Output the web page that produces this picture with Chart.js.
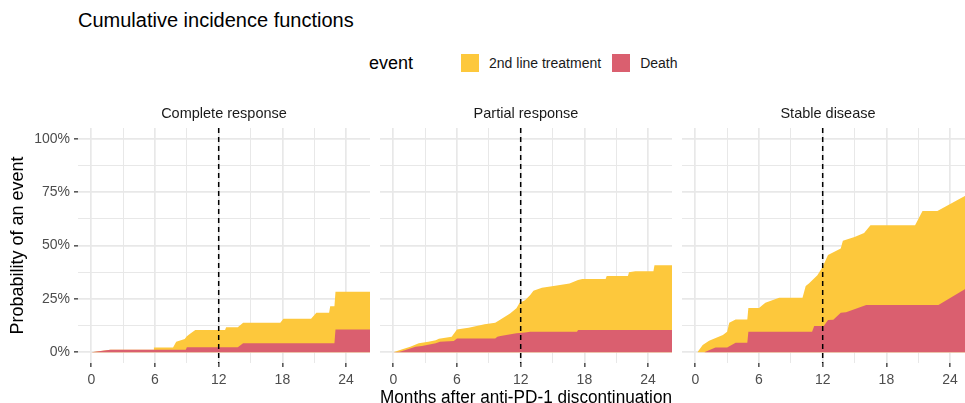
<!DOCTYPE html>
<html>
<head>
<meta charset="utf-8">
<script src="https://cdn.jsdelivr.net/npm/chart.js@4.4.1/dist/chart.umd.min.js"></script>
<style>
  html, body { margin: 0; padding: 0; background: #fff; }
  body { width: 965px; height: 403px; position: relative; overflow: hidden; font-family: "Liberation Sans", Arial, sans-serif; }
  .box { position: absolute; }
  .title { left: 78px; top: 8px; font-size: 20px; line-height: 24px; color: #000; white-space: nowrap; }
  .legend { top: 52px; left: 369px; height: 22px; display: flex; align-items: center; white-space: nowrap; }
  .legend .lt { font-size: 18px; color: #000; margin-right: 48px; }
  .legend .key { width: 18px; height: 18px; margin-right: 10px; }
  .legend .lab { font-size: 14px; color: #1a1a1a; margin-right: 11px; }
</style>
</head>
<body>
<div class="box title">Cumulative incidence functions</div>
<div class="box legend" id="legend"></div>
<canvas id="cr" class="box" style="left:0px;top:95px"></canvas>
<canvas id="pr" class="box" style="left:380px;top:95px"></canvas>
<canvas id="sd" class="box" style="left:682px;top:95px"></canvas>
<script>
// categories
const eventNames = ['2nd line treatment', 'Death'];
const panelNames = ['Complete response', 'Partial response', 'Stable disease'];
const xTicks = [0, 3, 6, 9, 12, 15, 18, 21, 24];
const yTicks = [0, 12.5, 25, 37.5, 50, 62.5, 75, 87.5, 100];
const landmarkMonth = 12;

// Complete response: death (bottom area) and stacked top (death + 2nd line), in %
const crDeathT   = [0, 1.8, 8.9, 9.0, 13.8, 14.3, 22.9, 23.0, 26.5];
const crDeathPct = [0, 1.2, 1.2, 2.4, 2.4, 4.2, 4.2, 10.7, 10.7];
const crTopT     = [0, 1.8, 5.85, 5.9, 7.7, 8.0, 8.8, 9.0, 9.4, 9.8, 12.6, 12.7, 13.8, 14.3, 17.8, 18.1, 20.7, 21.2, 22.4, 22.5, 22.9, 23.0, 26.5];
const crTopPct   = [0, 1.2, 1.2, 2.3, 2.3, 5.0, 6.2, 7.5, 9.0, 10.4, 10.4, 11.7, 11.7, 13.8, 13.8, 15.7, 15.7, 18.5, 18.5, 21.6, 21.6, 28.3, 28.3];

// Partial response
const prDeathT   = [0, 0.6, 1.15, 2.1, 2.7, 4.0, 4.4, 5.7, 6.0, 9.6, 9.8, 10.1, 11.6, 12.4, 12.9, 17.3, 17.4, 26.5];
const prDeathPct = [0, 0.3, 1.1, 2.6, 2.9, 4.2, 5.0, 5.3, 6.5, 6.5, 7.3, 7.6, 8.9, 9.3, 9.6, 9.6, 10.4, 10.4];
const prTopT     = [0, 0.85, 1.6, 2.4, 2.7, 3.3, 4.0, 4.3, 5.5, 6.0, 6.6, 7.1, 8.6, 9.6, 10.1, 11.0, 11.6, 11.9, 12.4, 12.9, 13.2, 14.0, 15.1, 16.6, 17.4, 17.8, 20.0, 20.1, 22.1, 22.2, 22.8, 24.5, 24.6, 26.5];
const prTopPct   = [0, 1.4, 2.6, 4.2, 4.5, 5.0, 5.7, 6.4, 7.3, 10.7, 11.2, 11.5, 13.1, 13.8, 15.4, 18.2, 20.6, 23.2, 24.4, 26.8, 28.8, 30.2, 31.0, 32.2, 33.8, 34.3, 34.3, 35.7, 35.7, 37.5, 38.0, 38.0, 40.8, 40.8];

// Stable disease
const sdDeathT   = [0.85, 1.9, 3.0, 3.8, 4.9, 5.0, 11.0, 11.2, 12.1, 12.5, 13.0, 13.7, 14.2, 16.1, 22.9, 26.5];
const sdDeathPct = [0, 2.2, 2.2, 4.5, 4.5, 9.6, 9.6, 12.3, 12.3, 15.1, 15.3, 18.5, 18.8, 22.1, 22.1, 32.9];
const sdTopT     = [0.2, 0.7, 1.3, 2.6, 3.0, 3.2, 3.8, 4.9, 5.0, 6.0, 6.6, 7.9, 10.1, 10.4, 10.7, 11.5, 12.0, 12.5, 13.7, 13.9, 15.0, 15.9, 16.5, 20.7, 21.4, 22.8, 26.5];
const sdTopPct   = [0, 3.4, 5.4, 8.1, 9.6, 13.8, 15.4, 15.4, 20.8, 20.8, 23.2, 25.5, 25.5, 31.0, 32.2, 36.1, 40.0, 45.5, 48.6, 52.2, 54.0, 55.9, 59.5, 59.5, 66.2, 66.2, 76.2];

const yellow = '#FDC83C';
const red = '#DA5F6F';

// legend
const legend = document.getElementById('legend');
legend.innerHTML = '<span class="lt">event</span>' +
  eventNames.map((n, i) => '<span class="key" style="background:' + (i === 0 ? yellow : red) + '"></span><span class="lab">' + n + '</span>').join('');

const toPts = (ts, vs) => ts.map((t, i) => ({ x: t, y: vs[i] }));

const landmarkPlugin = {
  id: 'landmark',
  afterDatasetsDraw(chart) {
    const { ctx, chartArea: { top, bottom }, scales: { x } } = chart;
    const xPos = x.getPixelForValue(landmarkMonth);
    ctx.save();
    ctx.strokeStyle = '#000';
    ctx.lineWidth = 1.5;
    ctx.setLineDash([5, 4]);
    ctx.beginPath();
    ctx.moveTo(xPos, top);
    ctx.lineTo(xPos, bottom);
    ctx.stroke();
    ctx.restore();
  },
};

function makePanel(id, name, deathT, deathPct, topT, topPct, opts) {
  const canvas = document.getElementById(id);
  canvas.width = opts.width;
  canvas.height = 315;
  canvas.style.width = opts.width + 'px';
  canvas.style.height = '315px';

  return new Chart(canvas, {
    type: 'line',
    data: {
      datasets: [
        { label: eventNames[1], data: toPts(deathT, deathPct), backgroundColor: red, borderWidth: 0, pointRadius: 0, fill: 'origin', tension: 0 },
        { label: eventNames[0], data: toPts(topT, topPct), backgroundColor: yellow, borderWidth: 0, pointRadius: 0, fill: 'origin', tension: 0 },
      ],
    },
    options: {
      responsive: false,
      animation: false,
      layout: { padding: 0 },
      plugins: {
        legend: { display: false },
        tooltip: { enabled: false },
        title: {
          display: true,
          text: name,
          fullSize: false,
          color: '#1a1a1a',
          font: { family: 'Liberation Sans', size: 14.5, weight: 'normal' },
          padding: { top: 10.5, bottom: 5.1 },
        },
      },
      scales: {
        x: {
          type: 'linear',
          min: -1.25,
          max: 26.25,
          afterBuildTicks: (s) => { s.ticks = xTicks.map((v) => ({ value: v })); },
          afterFit: (s) => { s.height = 47; },
          border: { display: false },
          grid: {
            color: '#E8E8E8',
            lineWidth: (c) => (c.tick && c.tick.value % 6 === 0 ? 1.7 : 1),
            tickColor: (c) => (c.tick && c.tick.value % 6 === 0 ? '#333' : 'rgba(0,0,0,0)'),
            tickLength: 4,
            tickWidth: 1.3,
          },
          ticks: {
            color: '#4d4d4d',
            font: { family: 'Liberation Sans', size: 14 },
            padding: 5,
            maxRotation: 0,
            autoSkip: false,
            callback: (v) => (v % 6 === 0 ? String(v) : ''),
          },
          title: {
            display: opts.xTitle,
            text: 'Months after anti-PD-1 discontinuation',
            color: '#000',
            font: { family: 'Liberation Sans', size: 18 },
            padding: { top: 0, bottom: 1.5 },
          },
        },
        y: {
          min: -5,
          max: 105,
          afterBuildTicks: (s) => { s.ticks = yTicks.map((v) => ({ value: v })); },
          afterFit: (s) => { s.width = opts.yAxis ? 78 : 0; },
          border: { display: false },
          grid: {
            color: '#E8E8E8',
            lineWidth: (c) => (c.tick && c.tick.value % 25 === 0 ? 1.7 : 1),
            tickColor: (c) => (opts.yAxis && c.tick && c.tick.value % 25 === 0 ? '#333' : 'rgba(0,0,0,0)'),
            tickLength: opts.yAxis ? 4 : 0,
            tickWidth: 1.3,
            drawTicks: opts.yAxis,
          },
          ticks: {
            display: opts.yAxis,
            color: '#4d4d4d',
            font: { family: 'Liberation Sans', size: 14 },
            padding: 4,
            autoSkip: false,
            callback: (v) => (v % 25 === 0 ? v + '%' : ''),
          },
          title: {
            display: opts.yAxis,
            text: 'Probability of an event',
            color: '#000',
            font: { family: 'Liberation Sans', size: 18 },
            padding: { top: 7.2, bottom: 0 },
          },
        },
      },
    },
    plugins: [landmarkPlugin],
  });
}

makePanel('cr', panelNames[0], crDeathT, crDeathPct, crTopT, crTopPct, { width: 370, yAxis: true, xTitle: false });
makePanel('pr', panelNames[1], prDeathT, prDeathPct, prTopT, prTopPct, { width: 292, yAxis: false, xTitle: true });
makePanel('sd', panelNames[2], sdDeathT, sdDeathPct, sdTopT, sdTopPct, { width: 292, yAxis: false, xTitle: false });
</script>
</body>
</html>
